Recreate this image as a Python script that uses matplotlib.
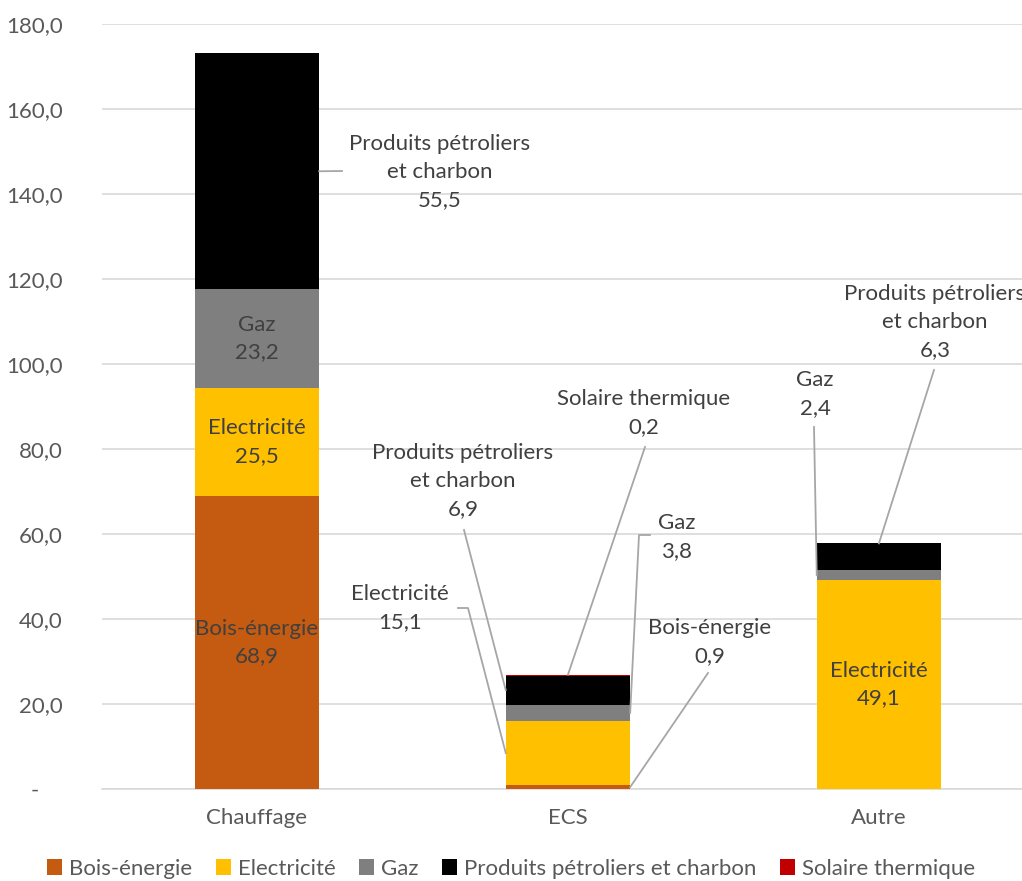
import matplotlib
matplotlib.use("Agg")
import matplotlib.pyplot as plt
from matplotlib.patches import Patch
from matplotlib.ticker import FuncFormatter, MultipleLocator

# ---- data ----
categories = ["Chauffage", "ECS", "Autre"]
series_names = ["Bois-énergie", "Electricité", "Gaz",
                "Produits pétroliers et charbon", "Solaire thermique"]
label_names = ["Bois-énergie", "Electricité", "Gaz",
               "Produits pétroliers\net charbon", "Solaire thermique"]
bois = [68.9, 0.9, 0.0]
electricite = [25.5, 15.1, 49.1]
gaz = [23.2, 3.8, 2.4]
petrole = [55.5, 6.9, 6.3]
solaire = [0.0, 0.2, 0.0]
series = [bois, electricite, gaz, petrole, solaire]
colors = ["#C55A11", "#FFC000", "#7F7F7F", "#000000", "#C00000"]

FONT = "Lato"
FS = 16
LS = 1.48
TXT = "#404040"
TICK = "#595959"
plt.rcParams['font.family'] = [FONT, 'DejaVu Sans']

W, H = 1022, 881
fig = plt.figure(figsize=(W / 100, H / 100), dpi=100)
ax = fig.add_axes([101.5 / W, (H - 789) / H, 920.5 / W, (789 - 24) / H])
ax.set_xlim(-0.5, 2.46)
ax.set_ylim(0, 180)

bw = 0.40
x = list(range(len(categories)))
bottoms = [0.0] * len(categories)
seg = {}
for s, (vals, col, name) in enumerate(zip(series, colors, series_names)):
    ax.bar(x, vals, width=bw, bottom=bottoms, color=col, label=name, zorder=3)
    for i, v in enumerate(vals):
        seg[(i, s)] = (bottoms[i], v)
    bottoms = [b + v for b, v in zip(bottoms, vals)]

# axes styling
ax.yaxis.set_major_locator(MultipleLocator(20))
ax.yaxis.set_major_formatter(FuncFormatter(
    lambda v, p: (f"{v:.1f}".replace('.', ',')) if abs(v) > 1e-9 else "-    "))
ax.set_xticks(x)
ax.set_xticklabels(categories)
ax.tick_params(axis='y', length=0, pad=28, labelsize=FS, labelcolor=TICK)
ax.tick_params(axis='x', length=0, pad=14, labelsize=FS, labelcolor=TICK)
ax.grid(axis='y', color="#D9D9D9", linewidth=1.2, zorder=0)
ax.set_axisbelow(True)
for sp in ['top', 'right', 'left']:
    ax.spines[sp].set_visible(False)
ax.spines['bottom'].set_color("#D9D9D9")
ax.spines['bottom'].set_linewidth(1.2)

fig.canvas.draw()
inv = ax.transData.inverted()


def pdata(px, py):
    return inv.transform((px, H - py))


def fmt(v):
    return f"{v:.1f}".replace('.', ',')

# inside labels
inside = [(0, 0), (0, 1), (0, 2), (2, 1)]
for (i, s) in inside:
    b, v = seg[(i, s)]
    ax.text(i, b + v / 2, f"{label_names[s]}\n{fmt(v)}", ha='center', va='center',
            color=TXT, fontsize=FS, linespacing=LS, zorder=5)

# outside labels with leader lines: text centre (px), leader path (px), anchor
outside = [
    ((0, 3), (440, 172), [(342, 171)], 'right'),
    ((1, 3), (463, 481), [(464, 530)], 'left'),
    ((1, 4), (644, 413), [(645, 447)], 'top'),
    ((1, 2), (677, 537), [(650, 535), (639, 535)], 'right'),
    ((1, 1), (400, 608), [(458, 608), (468, 608)], 'left'),
    ((1, 0), (710, 642), [(708, 673)], 'right'),
    ((2, 2), (815, 394), [(814, 427)], 'left'),
    ((2, 3), (935, 322), [(934, 370)], 'top'),
]
for (i, s), tpos, path, anchor in outside:
    b, v = seg[(i, s)]
    tx, ty = pdata(*tpos)
    ax.text(tx, ty, f"{label_names[s]}\n{fmt(v)}", ha='center', va='center',
            color=TXT, fontsize=FS, linespacing=LS, zorder=5, clip_on=False)
    if anchor == 'left':
        end = (i - bw / 2, b + v / 2)
    elif anchor == 'right':
        end = (i + bw / 2, b + v / 2)
    else:
        end = (i, b + v)
    pts = [pdata(*p) for p in path] + [end]
    ax.plot([p[0] for p in pts], [p[1] for p in pts], color="#A6A6A6",
            linewidth=1.3, zorder=4, clip_on=False)

handles = [Patch(facecolor=c, edgecolor='none') for c in colors]
fig.legend(handles, series_names, loc='center', bbox_to_anchor=(0.5, 12 / H),
           ncol=5, frameon=False, fontsize=FS, labelcolor=TICK,
           handlelength=0.7, handleheight=0.7, handletextpad=0.3,
           columnspacing=1.05)

fig.savefig("out.png", dpi=100)
